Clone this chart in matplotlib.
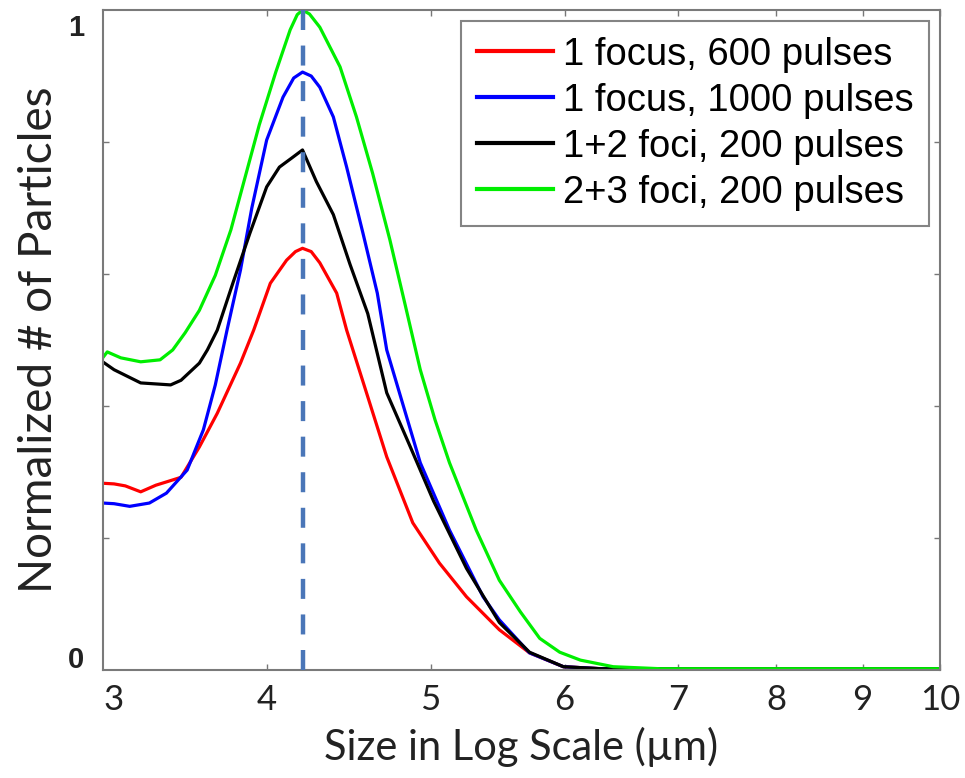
import matplotlib
matplotlib.use("Agg")
import matplotlib.pyplot as plt
from matplotlib.ticker import NullLocator, FixedLocator, FixedFormatter

# size (um) and normalized counts
red_x = [3.20, 3.25, 3.30, 3.37, 3.44, 3.49, 3.56, 3.65, 3.74, 3.86, 3.93, 4.02, 4.11, 4.16, 4.20,
         4.25, 4.30, 4.40, 4.46, 4.59, 4.71, 4.88, 5.06, 5.25, 5.49, 5.72, 5.99, 6.30, 10.0]
red_y = [0.283, 0.282, 0.279, 0.270, 0.280, 0.285, 0.292, 0.338, 0.389, 0.465, 0.515, 0.586,
         0.621, 0.634, 0.639, 0.634, 0.617, 0.571, 0.515, 0.414, 0.323, 0.223, 0.162, 0.111,
         0.061, 0.026, 0.005, 0.002, 0.002]

blue_x = [3.20, 3.25, 3.32, 3.41, 3.49, 3.59, 3.67, 3.73, 3.79, 3.86, 3.92, 4.00, 4.09, 4.15,
          4.20, 4.25, 4.30, 4.38, 4.46, 4.56, 4.65, 4.71, 4.80, 4.93, 5.13, 5.37, 5.49, 5.72,
          5.99, 6.30, 10.0]
blue_y = [0.253, 0.252, 0.248, 0.253, 0.268, 0.303, 0.364, 0.432, 0.515, 0.606, 0.700, 0.803,
          0.868, 0.897, 0.906, 0.900, 0.883, 0.838, 0.762, 0.662, 0.571, 0.485, 0.414, 0.314,
          0.212, 0.111, 0.076, 0.026, 0.005, 0.002, 0.002]

black_x = [3.20, 3.25, 3.37, 3.51, 3.56, 3.65, 3.69, 3.74, 3.82, 3.91, 4.00, 4.07, 4.14, 4.20,
           4.28, 4.38, 4.48, 4.59, 4.71, 4.86, 5.02, 5.25, 5.49, 5.72, 5.99, 6.30, 10.0]
black_y = [0.467, 0.455, 0.435, 0.432, 0.439, 0.465, 0.485, 0.515, 0.586, 0.662, 0.732, 0.762,
           0.776, 0.788, 0.740, 0.690, 0.615, 0.540, 0.420, 0.340, 0.256, 0.154, 0.072, 0.027,
           0.005, 0.002, 0.002]

green_x = [3.20, 3.22, 3.28, 3.37, 3.46, 3.52, 3.58, 3.65, 3.73, 3.81, 3.88, 3.96, 4.05, 4.13,
           4.17, 4.20, 4.24, 4.30, 4.42, 4.52, 4.62, 4.73, 4.83, 4.93, 5.03, 5.13, 5.32, 5.49,
           5.65, 5.80, 5.96, 6.13, 6.41, 6.83, 10.0]
green_y = [0.473, 0.482, 0.473, 0.467, 0.470, 0.485, 0.511, 0.545, 0.598, 0.667, 0.742, 0.826,
           0.906, 0.970, 0.993, 1.000, 0.994, 0.974, 0.914, 0.838, 0.753, 0.652, 0.553, 0.455,
           0.379, 0.314, 0.212, 0.136, 0.088, 0.048, 0.027, 0.015, 0.005, 0.002, 0.002]

labels = ["1 focus, 600 pulses", "1 focus, 1000 pulses", "1+2 foci, 200 pulses", "2+3 foci, 200 pulses"]
peak_size = 4.2

x_ticks = [3.25, 4, 5, 6, 7, 8, 9, 10]
x_ticklabels = ["3", "4", "5", "6", "7", "8", "9", "10"]
y_ticks = [0.02, 0.2, 0.4, 0.6, 0.8, 0.978]
y_ticklabels = ["0", "", "", "", "", "1"]

fig = plt.figure(figsize=(9.65, 7.78), dpi=100)
ax = fig.add_axes([0.1064, 0.1388, 0.8677, 0.8483])

lw = 2.3
ax.plot(red_x, red_y, color="#ff0000", lw=lw, label=labels[0])
ax.plot(blue_x, blue_y, color="#0000ff", lw=lw, label=labels[1])
ax.plot(black_x, black_y, color="#000000", lw=lw, label=labels[2])
ax.plot(green_x, green_y, color="#00ee00", lw=lw, label=labels[3])

# vertical marker at the common peak
ax.plot([peak_size, peak_size], [0, 1], color="#4a76b8", lw=3.2, dashes=(4.5, 3.5), zorder=5)

ax.set_xscale("log")
ax.set_xlim(3.2, 10)
ax.set_ylim(0, 1)
ax.xaxis.set_major_locator(FixedLocator(x_ticks))
ax.xaxis.set_major_formatter(FixedFormatter(x_ticklabels))
ax.xaxis.set_minor_locator(NullLocator())
ax.set_yticks(y_ticks)
ax.set_yticklabels(y_ticklabels)

ax.tick_params(axis="both", which="both", direction="in", length=4, width=1, color="#777777",
               top=True, right=True)
ax.tick_params(axis="x", labelsize=25, pad=10, labelcolor="#222222")
ax.tick_params(axis="y", labelsize=21, pad=13, labelcolor="#222222")
for lab in ax.get_xticklabels():
    lab.set_family("Lato")
for lab in ax.get_yticklabels():
    lab.set_family("Liberation Sans")
    lab.set_fontweight("bold")

# hide the marks for the shifted end labels
for t in [ax.xaxis.get_major_ticks()[0]]:
    t.tick1line.set_visible(False)
    t.tick2line.set_visible(False)
for t in [ax.yaxis.get_major_ticks()[0], ax.yaxis.get_major_ticks()[-1]]:
    t.tick1line.set_visible(False)
    t.tick2line.set_visible(False)

for s in ax.spines.values():
    s.set_color("#7a7a7a")
    s.set_linewidth(1.5)

ax.set_xlabel("Size in Log Scale (\u00b5m)", family="Lato", fontsize=30, color="#222222", labelpad=8)
ax.set_ylabel("Normalized # of Particles", family="Lato", fontsize=33, color="#222222", labelpad=6)

leg = ax.legend(loc="upper right", prop={"family": "Liberation Sans", "size": 27.5},
                frameon=True, fancybox=False, handlelength=2.0, handletextpad=0.25,
                labelspacing=0.26, borderaxespad=0.3, borderpad=0.4)
leg.get_frame().set_edgecolor("#666666")
leg.get_frame().set_linewidth(1.5)
for line in leg.get_lines():
    line.set_linewidth(3)

fig.savefig("out.png", dpi=100)
